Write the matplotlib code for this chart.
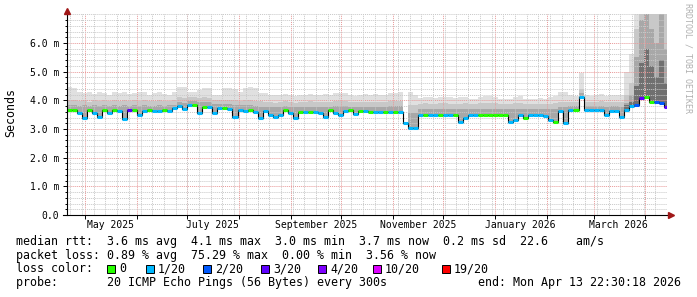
import numpy as np
import pandas as pd
import matplotlib
matplotlib.use('Agg')
import matplotlib.pyplot as plt
import matplotlib.dates as mdates
from matplotlib.patches import Rectangle
from datetime import datetime, timedelta

plt.rcParams['font.family'] = 'DejaVu Sans Mono'

# zeitraum: ein jahr bis zum ende, ein wert alle 3 tage
end = datetime(2026, 4, 13, 22, 30, 18)
start = end - timedelta(days=358.94)
step_days = 3

# median rtt in ms
med = [3.65, 3.65, 3.55, 3.39, 3.65, 3.55, 3.43, 3.66, 3.55, 3.65,
       3.64, 3.35, 3.65, 3.65, 3.49, 3.64, 3.65, 3.64, 3.64, 3.65,
       3.64, 3.72, 3.80, 3.70, 3.84, 3.84, 3.56, 3.78, 3.78, 3.56,
       3.72, 3.72, 3.70, 3.43, 3.66, 3.62, 3.66, 3.60, 3.38, 3.62,
       3.50, 3.43, 3.49, 3.66, 3.55, 3.38, 3.58, 3.58, 3.58, 3.58,
       3.56, 3.43, 3.66, 3.57, 3.50, 3.62, 3.66, 3.52, 3.63, 3.62,
       3.60, 3.60, 3.60, 3.60, 3.60, 3.60, 3.60, 3.20, 3.02, 3.02,
       3.49, 3.49, 3.49, 3.49, 3.49, 3.49, 3.49, 3.49, 3.25, 3.40,
       3.49, 3.49, 3.49, 3.49, 3.49, 3.49, 3.49, 3.49, 3.25, 3.31,
       3.49, 3.40, 3.49, 3.49, 3.49, 3.45, 3.31, 3.25, 3.62, 3.21,
       3.66, 3.66, 4.13, 3.66, 3.66, 3.66, 3.66, 3.49, 3.62, 3.62,
       3.42, 3.66, 3.80, 3.84, 4.07, 4.12, 3.95, 3.95, 3.92, 3.78]

# verlorene pings (von 20)
loss = [0, 0, 1, 1, 0, 1, 1, 0, 1, 0,
        1, 1, 3, 0, 1, 1, 0, 1, 1, 0,
        1, 1, 1, 1, 1, 0, 1, 0, 1, 1,
        1, 0, 1, 1, 1, 1, 0, 1, 1, 1,
        1, 1, 1, 0, 1, 1, 0, 1, 0, 1,
        1, 1, 0, 1, 1, 1, 0, 1, 0, 1,
        0, 1, 1, 0, 1, 0, 1, 1, 1, 1,
        1, 0, 1, 1, 0, 1, 1, 0, 1, 1,
        1, 1, 0, 0, 0, 0, 0, 0, 1, 1,
        1, 0, 1, 1, 1, 1, 1, 0, 1, 1,
        1, 0, 1, 1, 1, 1, 1, 1, 1, 1,
        1, 1, 1, 2, 3, 0, 0, 2, 2, 3]

# rauch: obere grenzen
smoke_max = [4.45, 4.42, 4.30, 4.25, 4.30, 4.22, 4.28, 4.25, 4.20, 4.30,
             4.25, 4.28, 4.22, 4.25, 4.30, 4.28, 4.20, 4.25, 4.28, 4.22,
             4.20, 4.30, 4.47, 4.45, 4.30, 4.30, 4.35, 4.43, 4.43, 4.19,
             4.19, 4.42, 4.42, 4.40, 4.30, 4.42, 4.45, 4.42, 4.25, 4.25,
             4.20, 4.18, 4.20, 4.22, 4.20, 4.15, 4.20, 4.20, 4.22, 4.18,
             4.20, 4.22, 4.18, 4.25, 4.27, 4.27, 4.20, 4.15, 4.20, 4.22,
             4.20, 4.22, 4.18, 4.20, 4.25, 4.25, 4.28, 3.20, 4.28, 4.20,
             4.08, 4.12, 4.10, 4.08, 4.10, 4.12, 4.10, 4.08, 4.10, 4.12,
             4.05, 4.05, 4.10, 4.15, 4.15, 4.12, 4.05, 4.05, 4.05, 4.12,
             4.15, 4.05, 4.05, 4.05, 4.08, 4.05, 4.10, 4.15, 4.30, 4.30,
             4.19, 4.15, 4.95, 4.19, 4.15, 4.19, 4.22, 4.15, 4.19, 4.19,
             4.19, 5.00, 5.60, 7.00, 7.00, 7.00, 7.00, 7.00, 7.00, 7.00]

smoke_p90 = [4.02, 4.00, 3.98, 4.00, 3.95, 4.00, 3.98, 4.00, 3.97, 4.00,
             3.98, 4.00, 3.97, 4.00, 3.98, 4.00, 3.97, 3.98, 4.00, 3.98,
             3.98, 4.00, 4.10, 4.08, 4.12, 4.10, 4.08, 4.10, 4.08, 4.00,
             4.00, 4.02, 4.02, 4.00, 3.98, 4.00, 4.00, 3.98, 3.97, 3.95,
             3.95, 3.92, 3.95, 3.97, 3.95, 3.92, 3.95, 3.95, 3.97, 3.95,
             3.95, 3.95, 3.93, 3.97, 3.98, 3.97, 3.95, 3.93, 3.95, 3.95,
             3.95, 3.95, 3.93, 3.95, 3.97, 3.97, 3.97, 3.20, 3.85, 3.85,
             3.88, 3.90, 3.88, 3.88, 3.90, 3.90, 3.88, 3.88, 3.88, 3.90,
             3.88, 3.88, 3.90, 3.92, 3.92, 3.90, 3.88, 3.88, 3.88, 3.90,
             3.90, 3.88, 3.88, 3.88, 3.88, 3.88, 3.88, 3.90, 3.95, 3.95,
             3.95, 3.95, 4.40, 3.95, 3.95, 3.95, 3.97, 3.93, 3.95, 3.95,
             3.93, 4.20, 4.60, 6.50, 7.00, 7.00, 7.00, 7.00, 7.00, 7.00]

smoke_p75 = [3.83, 3.82, 3.80, 3.82, 3.80, 3.82, 3.80, 3.82, 3.80, 3.82,
             3.81, 3.82, 3.80, 3.82, 3.80, 3.82, 3.80, 3.81, 3.82, 3.80,
             3.82, 3.85, 3.95, 3.92, 3.97, 3.97, 3.95, 3.95, 3.93, 3.88,
             3.88, 3.87, 3.87, 3.85, 3.82, 3.82, 3.82, 3.80, 3.78, 3.78,
             3.78, 3.76, 3.78, 3.80, 3.78, 3.76, 3.78, 3.78, 3.78, 3.78,
             3.77, 3.78, 3.78, 3.80, 3.80, 3.80, 3.78, 3.77, 3.78, 3.78,
             3.78, 3.78, 3.77, 3.78, 3.80, 3.80, 3.80, 3.20, 3.55, 3.55,
             3.68, 3.70, 3.68, 3.68, 3.70, 3.70, 3.68, 3.68, 3.68, 3.70,
             3.68, 3.68, 3.70, 3.70, 3.70, 3.70, 3.68, 3.68, 3.68, 3.70,
             3.70, 3.68, 3.68, 3.68, 3.68, 3.68, 3.68, 3.70, 3.78, 3.78,
             3.80, 3.80, 4.25, 3.80, 3.80, 3.80, 3.80, 3.78, 3.80, 3.80,
             3.78, 3.90, 4.20, 5.50, 6.80, 7.00, 6.50, 6.00, 7.00, 5.80]

# dunkler kern im maerz 2026 (ab schritt storm_from)
storm_from = 111
storm_core = [3.85, 3.95, 4.50, 5.30, 5.80, 5.20, 4.80, 5.40, 4.60]

loss_steps = [0, 1, 2, 3, 4, 10, 19]
loss_labels = ['0', '1/20', '2/20', '3/20', '4/20', '10/20', '19/20']
loss_colors = ['#26ff00', '#00b8ff', '#0059ff', '#5e00ff', '#7e00ff', '#dd00ff', '#ff0000']

legend_lines = [
    'median rtt:  3.6 ms avg  4.1 ms max  3.0 ms min  3.7 ms now  0.2 ms sd  22.6    am/s',
    'packet loss: 0.89 % avg  75.29 % max  0.00 % min  3.56 % now',
    'loss color:',
    'probe:       20 ICMP Echo Pings (56 Bytes) every 300s             end: Mon Apr 13 22:30:18 2026',
]

W, H = 697, 297
fig = plt.figure(figsize=(W / 100, H / 100), dpi=100)
ax = fig.add_axes([67 / W, 82 / H, 600 / W, 200.7 / H])

t0 = mdates.date2num(start)
edges = t0 + step_days * np.arange(len(med) + 1)

# rauch
ax.stairs(smoke_max, edges, baseline=med, fill=True, color='#e0e0e0', lw=0, zorder=1)
ax.stairs(smoke_p90, edges, baseline=med, fill=True, color='#c8c8c8', lw=0, zorder=1.1)
ax.stairs(smoke_p75, edges, baseline=med, fill=True, color='#a8a8a8', lw=0, zorder=1.2)
ax.stairs(storm_core, edges[storm_from:], baseline=med[storm_from:], fill=True,
          color='#707070', lw=0, zorder=1.3)

# median
ax.stairs(med, edges, baseline=None, color='black', lw=0.8, zorder=3)
colors = [loss_colors[max(i for i, s in enumerate(loss_steps) if s <= l)] for l in loss]
ax.hlines(med, edges[:-1], edges[1:], colors=colors, lw=2.2, zorder=3.1)

ax.set_xlim(mdates.date2num(start), mdates.date2num(end))
ax.set_ylim(0, 7.0)

# achsen & gitter
ax.xaxis.set_major_locator(mdates.MonthLocator())
ax.xaxis.set_major_formatter(plt.NullFormatter())
ax.xaxis.set_minor_locator(mdates.MonthLocator(bymonth=[1, 3, 5, 7, 9, 11], bymonthday=16))
ax.xaxis.set_minor_formatter(mdates.DateFormatter('%B %Y'))
ax.tick_params(axis='x', which='major', length=3, width=0.7, direction='out')
ax.tick_params(axis='x', which='minor', length=0, pad=3.5, labelsize=7)

ax.set_yticks(np.arange(0, 7, 1.0))
ax.set_yticks(np.arange(0, 7.01, 0.2), minor=True)
ax.set_yticklabels(['0.0'] + ['%.1f m' % v for v in np.arange(1, 7, 1.0)])
ax.tick_params(axis='y', which='major', length=3, width=0.7, pad=2.5, labelsize=7)
ax.tick_params(axis='y', which='minor', length=1.5, width=0.7)

dot = (0, (1, 1))
ax.grid(True, which='major', axis='both', color='#e89898', lw=0.7, ls=dot, zorder=2.5)
ax.grid(True, which='minor', axis='y', color='#c8c8c8', lw=0.7, ls=dot, zorder=2.4)
weeks = mdates.date2num(pd.date_range(start, end, freq='W-MON').to_pydatetime())
ax.vlines(weeks, 0, 7.0, colors='#c8c8c8', lw=0.7, linestyles=dot, zorder=2.4)

for s in ax.spines.values():
    s.set_visible(False)
ax.plot([0, 0], [0, 1.01], transform=ax.transAxes, color='black', lw=0.8, clip_on=False, zorder=4)
ax.plot([-0.006, 1.005], [0, 0], transform=ax.transAxes, color='black', lw=0.8, clip_on=False, zorder=4)
ax.plot([0], [1.016], marker='^', ms=5, color='#a01818', transform=ax.transAxes, clip_on=False, zorder=5)
ax.plot([1.006], [0], marker='>', ms=5, color='#a01818', transform=ax.transAxes, clip_on=False, zorder=5)

fig.text(11 / W, 1 - 113 / H, 'Seconds', rotation=90, fontsize=8.4, ha='center', va='center')
fig.text(688 / W, 1 - 58 / H, 'RRDTOOL / TOBI OETIKER', rotation=270, fontsize=6,
         color='#b0b0b0', ha='center', va='center')

# legende
line_y = [241, 255, 268.5, 282.5]
for txt, y in zip(legend_lines, line_y):
    fig.text(16 / W, 1 - y / H, txt, fontsize=8.4, ha='left', va='center')

box_x = [107, 146, 203, 261, 318, 373, 442]
for bx, lab, c in zip(box_x, loss_labels, loss_colors):
    fig.add_artist(Rectangle((bx / W, 1 - (line_y[2] + 4) / H), 8 / W, 8 / H,
                             transform=fig.transFigure, facecolor=c, edgecolor='black', lw=0.7))
    fig.text((bx + 12) / W, 1 - line_y[2] / H, lab, fontsize=8.4, ha='left', va='center')

fig.savefig('out.png', dpi=100)
